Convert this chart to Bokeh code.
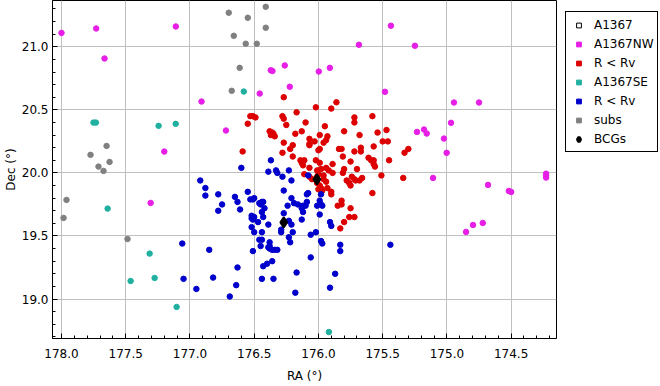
from bokeh.plotting import figure
from bokeh.models import (Range1d, SingleIntervalTicker, PrintfTickFormatter,
                          Legend, LegendItem)
from bokeh.embed import file_html
from bokeh.resources import INLINE

FONT = "DejaVu Sans"
NAN = float("nan")

# A1367NW (magenta)
nw_ra = [178.00, 177.73, 177.665, 177.11, 176.91, 176.72, 177.20, 176.457, 176.371, 176.358,
         176.262, 176.223, 175.997, 175.911, 175.436, 175.685, 175.249, 175.482, 174.945, 174.75,
         175.233, 175.178, 175.157, 174.968, 175.023, 175.002, 175.108, 174.228, 174.228, 174.228,
         174.68, 174.518, 174.50, 174.721, 174.797, 174.851, 177.306]
nw_dec = [21.11, 21.145, 20.907, 21.161, 20.566, 20.336, 20.169, 20.629, 20.814, 20.808,
          20.852, 20.683, 20.804, 20.833, 21.167, 21.016, 21.008, 20.643, 20.558, 20.558,
          20.325, 20.344, 20.312, 20.397, 20.272, 20.159, 19.960, 19.994, 19.979, 19.963,
          19.905, 19.857, 19.849, 19.603, 19.587, 19.532, 19.762]

# R < Rv (red, NW sub-cluster)
red_ra = [176.27, 176.02, 175.90, 175.86, 176.53, 176.51, 176.49, 176.55, 176.28, 176.27,
          176.17, 176.25, 176.10, 175.95, 176.38, 176.36, 176.35, 176.34, 176.37, 176.18,
          176.13, 176.07, 175.99, 175.93, 175.94, 175.96, 176.03, 176.27, 176.20, 176.22,
          176.07, 176.07, 175.99, 176.00, 175.84, 176.59, 176.28, 176.20, 176.14, 176.13,
          176.11, 176.12, 176.02, 175.99, 175.94, 175.92, 176.11, 176.07, 176.01, 176.00,
          176.01, 176.05, 175.96, 175.96, 175.72, 175.72, 175.58, 175.80, 175.68, 175.54,
          175.47, 175.50, 175.46, 175.82, 175.72, 175.67, 175.67, 175.57, 175.30, 175.33,
          175.81, 175.61, 175.59, 175.57, 175.57, 175.56, 175.45, 175.75, 175.80, 175.81,
          175.70, 175.51, 175.34, 175.78, 175.74, 175.72, 175.71, 175.66, 175.68, 175.76,
          175.75, 176.01, 176.00, 175.98, 175.97, 175.93, 175.90, 175.90, 175.58, 175.82,
          175.85, 175.82, 175.75, 175.76, 175.72, 175.80, 175.83, 175.99, 176.07, 175.98,
          175.89, 175.94, 175.89]
red_dec = [20.60, 20.52, 20.51, 20.56, 20.45, 20.45, 20.44, 20.39, 20.45, 20.43,
           20.48, 20.38, 20.40, 20.37, 20.33, 20.32, 20.31, 20.29, 20.30, 20.31,
           20.33, 20.27, 20.30, 20.29, 20.26, 20.24, 20.25, 20.24, 20.22, 20.19,
           20.23, 20.22, 20.19, 20.18, 20.19, 20.17, 20.16, 20.13, 20.10, 20.08,
           20.10, 20.06, 20.10, 20.08, 20.04, 20.02, 19.99, 19.97, 20.02, 19.99,
           19.97, 19.95, 19.98, 19.95, 20.44, 20.40, 20.45, 20.33, 20.30, 20.32,
           20.34, 20.25, 20.25, 20.19, 20.17, 20.20, 20.17, 20.21, 20.19, 20.16,
           20.13, 20.12, 20.10, 20.10, 20.07, 20.05, 20.10, 20.09, 20.03, 20.00,
           20.03, 19.98, 19.96, 19.94, 19.97, 19.95, 19.94, 19.96, 19.94, 19.92,
           19.90, 19.92, 19.87, 19.88, 19.86, 19.88, 19.85, 19.83, 19.84, 19.78,
           19.74, 19.75, 19.72, 19.65, 19.65, 19.61, 19.56, 19.90, 20.04, 20.03,
           20.07, 19.93, 20.00]

# A1367SE (teal)
se_ra = [177.751, 177.732, 177.244, 177.111, 176.581, 177.641, 177.314, 177.462, 177.275,
         177.104, 175.919]
se_dec = [20.399, 20.399, 20.373, 20.389, 20.645, 19.717, 19.36, 19.143, 19.167, 18.937, 18.738]

# R < Rv (blue, SE sub-cluster)
blue_ra = [176.60, 176.39, 176.33, 176.32, 176.23, 176.28, 176.21, 176.37, 176.92, 176.88,
           176.88, 176.78, 176.75, 176.78, 176.65, 176.63, 176.61, 176.55, 176.53, 176.51,
           176.50, 176.46, 176.44, 176.43, 176.45, 176.27, 176.24, 176.19, 176.16, 176.27,
           176.52, 176.52, 176.50, 176.51, 176.44, 176.42, 176.43, 176.47, 176.39, 176.52,
           176.44, 176.50, 176.29, 176.29, 176.21, 176.20, 176.23, 176.22, 176.46, 176.44,
           176.45, 176.38, 176.38, 176.39, 176.38, 176.36, 176.34, 176.32, 176.51, 176.36,
           176.40, 176.43, 177.06, 176.85, 176.63, 176.82, 177.05, 176.44, 176.35, 176.17,
           176.64, 176.95, 176.18, 176.69, 176.08, 175.98, 175.99, 176.01, 175.98, 175.97,
           175.99, 176.08, 176.09, 176.09, 176.10, 176.12, 176.12, 176.13, 176.21, 176.13,
           176.06, 176.02, 175.98, 175.97, 175.91, 175.90, 175.83, 175.83, 175.44, 176.06,
           175.87, 175.91, 176.23]
blue_dec = [20.04, 20.01, 20.02, 20.00, 20.02, 19.97, 19.94, 20.10, 19.94, 19.88,
            19.82, 19.83, 19.75, 19.70, 19.81, 19.77, 19.71, 19.85, 19.79, 19.79,
            19.80, 19.76, 19.77, 19.77, 19.75, 19.86, 19.74, 19.76, 19.75, 19.68,
            19.66, 19.64, 19.65, 19.63, 19.69, 19.72, 19.65, 19.61, 19.59, 19.57,
            19.53, 19.53, 19.55, 19.53, 19.59, 19.53, 19.49, 19.45, 19.47, 19.47,
            19.42, 19.45, 19.42, 19.41, 19.40, 19.39, 19.39, 19.39, 19.38, 19.30,
            19.28, 19.26, 19.44, 19.39, 19.25, 19.17, 19.16, 19.16, 19.16, 19.21,
            19.11, 19.08, 19.05, 19.02, 19.98, 19.83, 19.78, 19.74, 19.75, 19.74,
            19.67, 19.84, 19.83, 19.77, 19.74, 19.74, 19.69, 19.63, 19.80, 19.72,
            19.51, 19.53, 19.46, 19.44, 19.61, 19.58, 19.43, 19.38, 19.43, 19.33,
            19.20, 19.09, 19.62]

# subs (gray)
subs_ra = [176.698, 176.55, 176.41, 176.41, 176.659, 176.566, 176.48, 176.613, 176.675,
           177.649, 177.774, 177.712, 177.673, 177.626, 177.961, 177.984, 177.486]
subs_dec = [21.27, 21.23, 21.317, 21.151, 21.087, 21.024, 21.024, 20.833, 20.651,
            20.214, 20.143, 20.05, 20.016, 20.087, 19.786, 19.643, 19.476]

# BCGs
bcg_ra = [176.012, 176.27]
bcg_dec = [19.949, 19.608]

labels = ["A1367", "A1367NW", "R < Rv", "A1367SE", "R < Rv", "subs", "BCGs"]

C_NW = "#e61ee6"
C_RED = "#dc0000"
C_SE = "#20b0a0"
C_BLUE = "#0000cc"
C_GRAY = "#808080"

p = figure(frame_width=504, frame_height=338, output_backend="svg", toolbar_location=None,
           x_range=Range1d(178.07, 174.147), y_range=Range1d(18.687, 21.367),
           min_border_top=0, min_border_left=0, min_border_bottom=0, min_border_right=102,
           background_fill_color="white", border_fill_color="white")

p.outline_line_color = "black"
p.outline_line_width = 1
p.outline_line_alpha = 1.0

for ax in (p.xaxis[0], p.yaxis[0]):
    ax.ticker = SingleIntervalTicker(interval=0.5, num_minor_ticks=5)
    ax.formatter = PrintfTickFormatter(format="%.1f")
    ax.major_tick_in = 5
    ax.major_tick_out = 0
    ax.minor_tick_in = 3
    ax.minor_tick_out = 0
    ax.axis_line_color = "black"
    ax.major_tick_line_color = "black"
    ax.minor_tick_line_color = "black"
    ax.major_label_text_font = FONT
    ax.major_label_text_font_size = "12px"
    ax.major_label_text_color = "black"
    ax.axis_label_text_font = FONT
    ax.axis_label_text_font_size = "12px"
    ax.axis_label_text_font_style = "normal"
    ax.axis_label_text_color = "black"

p.xaxis.axis_label = "RA (°)"
p.yaxis.axis_label = "Dec (°)"
p.xaxis.major_label_standoff = 10
p.xaxis.axis_label_standoff = 8
p.yaxis.major_label_standoff = 4
p.yaxis.axis_label_standoff = 1

p.xgrid.ticker = p.xaxis[0].ticker
p.ygrid.ticker = p.yaxis[0].ticker
p.grid.grid_line_color = "#c0c0c0"
p.grid.grid_line_width = 1

S = 5.5
r_nw = p.scatter(nw_ra, nw_dec, marker="circle", size=S, fill_color=C_NW, line_color=C_NW)
r_red = p.scatter(red_ra, red_dec, marker="circle", size=S, fill_color=C_RED, line_color=C_RED)
r_se = p.scatter(se_ra, se_dec, marker="circle", size=S, fill_color=C_SE, line_color=C_SE)
r_blue = p.scatter(blue_ra, blue_dec, marker="circle", size=S, fill_color=C_BLUE, line_color=C_BLUE)
r_gray = p.scatter(subs_ra, subs_dec, marker="circle", size=S, fill_color=C_GRAY, line_color=C_GRAY)
r_bcg = p.scatter(bcg_ra, bcg_dec, marker="diamond", size=10,
                  fill_color="black", line_color="black", line_width=2)

# legend-only glyphs (squares, as in the reference legend); NaN data -> nothing drawn in plot
def leg(marker, fill, line, **kw):
    return p.scatter([NAN], [NAN], marker=marker, size=5, fill_color=fill, line_color=line, **kw)

l_a = leg("square", None, "black")
l_nw = leg("square", C_NW, C_NW)
l_red = leg("square", C_RED, C_RED)
l_se = leg("square", C_SE, C_SE)
l_blue = leg("square", C_BLUE, C_BLUE)
l_gray = leg("square", C_GRAY, C_GRAY)
l_bcg = leg("diamond", "black", "black", line_width=3)

items = [LegendItem(label=lab, renderers=[r]) for lab, r in
         zip(labels, [l_a, l_nw, l_red, l_se, l_blue, l_gray, l_bcg])]

legend = Legend(items=items, location=(9, 186), margin=0, padding=3, spacing=0,
                glyph_width=19, glyph_height=12, label_height=19, label_standoff=6,
                label_text_font=FONT, label_text_font_size="12px", label_text_color="black",
                border_line_color="black", border_line_width=1, border_line_alpha=1.0,
                background_fill_color="white", background_fill_alpha=1.0)
p.add_layout(legend, "right")

open("out.html", "w").write(file_html(p, INLINE))
